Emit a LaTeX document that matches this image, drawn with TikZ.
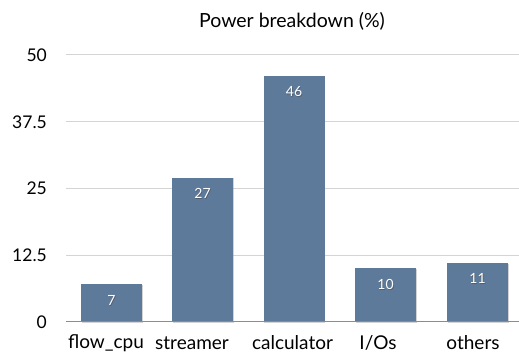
\documentclass[tikz,border=0pt]{standalone}
\usepackage{fontspec}
\setmainfont{Lato}
\usetikzlibrary{shadows}
\definecolor{barblue}{RGB}{94,122,155}
\definecolor{gridgray}{RGB}{212,212,212}
\definecolor{axisgray}{RGB}{140,140,140}
\tikzset{
  bar/.style={fill=barblue, draw=none, minimum width=61pt, inner sep=0pt, anchor=south,
    drop shadow={opacity=0.35, shadow xshift=0.8pt, shadow yshift=-0.8pt}},
  vallabel/.style={text=white, font=\fontsize{14}{14}\selectfont, inner sep=0pt},
  valshadow/.style={text=black!70, opacity=0.6, font=\fontsize{14}{14}\selectfont, inner sep=0pt},
  catlabel/.style={font=\fontsize{19}{19}\selectfont, inner sep=0pt},
  titlelabel/.style={font=\fontsize{19.5}{19.5}\selectfont, inner sep=0pt},
  ticklabel/.style={font=\fontsize{17.5}{17.5}\selectfont, inner sep=0pt, anchor=east},
  gridline/.style={draw=gridgray, line width=1pt},
  axisline/.style={draw=axisgray, line width=1pt}
}
\begin{document}
\begin{tikzpicture}[x=1pt,y=1pt]
\useasboundingbox (0,0) rectangle (519,358);
% title
\node[titlelabel] (title) at (292,337) {Power breakdown (\%)};
% grid lines and tick labels
\foreach \v/\nm in {12.5/a,25/b,37.5/c,50/d}{
  \coordinate (gl\nm) at (66,36+\v*5.34);
  \coordinate (gr\nm) at (519,36+\v*5.34);
  \draw[gridline] (gl\nm) -- (gr\nm);
  \node[ticklabel] (t\nm) at (47,36+\v*5.34) {\v};
}
\coordinate (axl) at (66,36);
\coordinate (axr) at (519,36);
\node[ticklabel] (t0) at (47,36) {0};
% bars
\foreach \x/\v/\nm/\lx/\lab in {111.5/7/b1/106/{flow\_cpu}, 202.5/27/b2/192/{streamer}, 294/46/b3/292.5/{calculator}, 385.5/10/b4/378/{I/Os}, 477.5/11/b5/473/{others}}{
  \node[bar, minimum height=\v*5.34pt] (\nm) at (\x,36) {};
  \node[valshadow] (s\nm) at ([xshift=0.8pt,yshift=-16.8pt]\nm.north) {\v};
  \node[vallabel] (v\nm) at ([yshift=-16pt]\nm.north) {\v};
  \node[catlabel] (c\nm) at (\lx,15) {\lab};
}
\draw[axisline] (axl) -- (axr);
\end{tikzpicture}
\end{document}
